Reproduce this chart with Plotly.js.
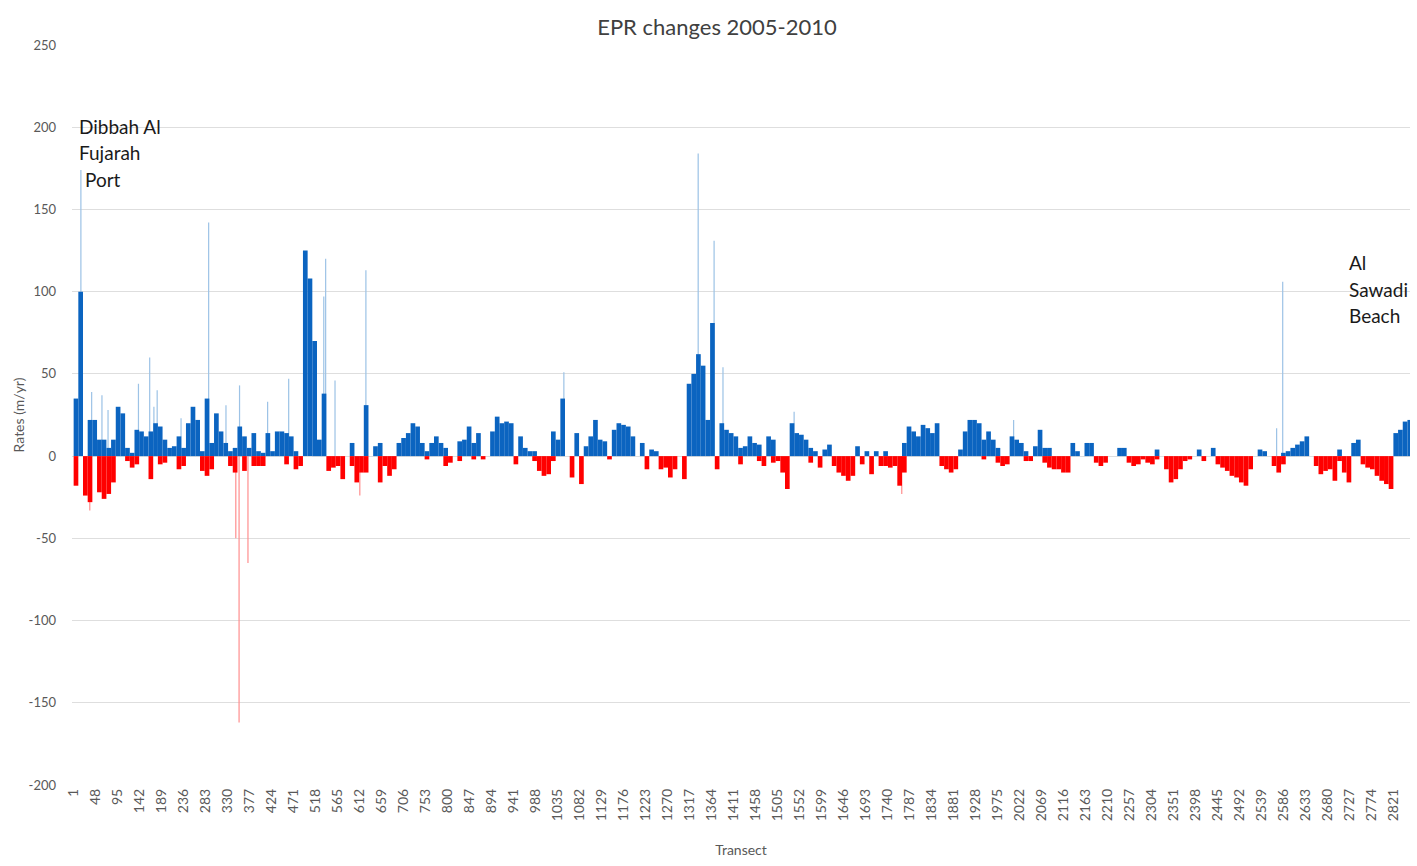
<!DOCTYPE html>
<html>
<head>
<meta charset="utf-8">
<script src="https://cdn.plot.ly/plotly-3.0.1.min.js"></script>
<style>
  html, body { margin: 0; padding: 0; background: #fff; }
  #chart { width: 1417px; height: 866px; }
</style>
</head>
<body>
<div id="chart"></div>
<script>
// EPR per group of 10 transects (m/yr)
const binStart = 1;
const binSize = 10;

// accretion part of each group (blue)
const gain = [
  35, 100, 0, 22, 22, 10, 10, 5, 10, 30,
  26, 5, 2, 16, 15, 12, 15, 20, 18, 10,
  5, 6, 12, 5, 20, 30, 22, 3, 35, 8,
  26, 15, 8, 3, 5, 18, 12, 5, 14, 3,
  2, 14, 3, 15, 15, 14, 12, 3, 0, 125,
  108, 70, 10, 38, 0, 0, 0, 0, 0, 8,
  0, 0, 31, 0, 6, 8, 0, 0, 0, 8,
  11, 14, 20, 18, 8, 3, 8, 12, 8, 5,
  0, 0, 9, 10, 18, 8, 14, 0, 0, 15,
  24, 20, 21, 20, 0, 12, 5, 3, 3, 0,
  0, 0, 15, 10, 35, 0, 0, 14, 0, 6,
  12, 22, 10, 9, 0, 16, 20, 19, 18, 12,
  0, 8, 0, 4, 3, 0, 0, 0, 0, 0,
  0, 44, 50, 62, 55, 22, 81, 0, 20, 16,
  14, 12, 5, 6, 12, 8, 7, 0, 12, 10,
  0, 0, 0, 20, 14, 13, 10, 5, 3, 0,
  4, 7, 0, 0, 0, 0, 0, 6, 0, 3,
  0, 3, 0, 3, 0, 0, 0, 8, 18, 15,
  12, 19, 17, 14, 20, 0, 0, 0, 0, 4,
  15, 22, 22, 20, 10, 15, 10, 5, 0, 0,
  12, 10, 8, 3, 0, 6, 16, 5, 5, 0,
  0, 0, 0, 8, 3, 0, 8, 8, 0, 0,
  0, 0, 0, 5, 5, 0, 0, 0, 0, 0,
  0, 4, 0, 0, 0, 0, 0, 0, 0, 0,
  4, 0, 0, 5, 0, 0, 0, 0, 0, 0,
  0, 0, 0, 4, 3, 0, 0, 0, 2, 3,
  5, 7, 9, 12, 0, 0, 0, 0, 0, 0,
  4, 0, 0, 8, 10, 0, 0, 0, 0, 0,
  0, 0, 14, 16, 21, 22
];

// erosion part of each group (red)
const loss = [
  -18, 0, -24, -28, 0, -22, -26, -23, -16, 0,
  0, -3, -7, -5, 0, 0, -14, 0, -5, -4,
  0, 0, -8, -6, 0, 0, 0, -9, -12, -8,
  0, 0, 0, -6, -10, 0, -9, 0, -6, -6,
  -6, 0, 0, 0, 0, -5, 0, -8, -6, 0,
  0, 0, 0, 0, -9, -7, -6, -14, 0, -6,
  -16, -10, -10, 0, 0, -16, -6, -12, -8, 0,
  0, 0, 0, 0, 0, -2, 0, 0, 0, -6,
  -4, 0, -3, 0, 0, -2, 0, -2, 0, 0,
  0, 0, 0, 0, -5, 0, 0, 0, -3, -9,
  -12, -11, -3, 0, 0, 0, -13, 0, -17, 0,
  0, 0, 0, 0, -2, 0, 0, 0, 0, 0,
  0, 0, -8, 0, 0, -8, -7, -13, -8, 0,
  -14, 0, 0, 0, 0, 0, 0, -8, 0, 0,
  0, 0, -5, 0, 0, 0, -3, -6, 0, -4,
  -3, -10, -20, 0, 0, 0, 0, -4, 0, -7,
  0, 0, -6, -10, -12, -15, -12, 0, -5, 0,
  -11, 0, -6, -6, -7, -6, -18, -10, 0, 0,
  0, 0, 0, 0, 0, -6, -8, -10, -8, 0,
  0, 0, 0, 0, -2, 0, 0, -4, -6, -5,
  0, 0, 0, -3, -3, 0, 0, -4, -7, -8,
  -8, -10, -10, 0, 0, 0, 0, 0, -4, -6,
  -4, 0, 0, 0, 0, -4, -6, -5, -2, -4,
  -5, -2, 0, -8, -16, -14, -8, -3, -2, 0,
  0, -3, 0, 0, -5, -7, -9, -12, -13, -16,
  -18, -8, 0, 0, 0, 0, -6, -10, -5, 0,
  0, 0, 0, 0, 0, -6, -11, -9, -8, -15,
  -3, -10, -16, 0, 0, -5, -7, -8, -12, -15,
  -17, -20, 0, 0, 0, 0
];

// single transects that stick out (thin light bars)
const peakTransect = [16, 39, 61, 74, 139, 163, 172, 179, 230, 289, 326, 355, 415, 460,
  535, 539, 559, 625, 1048, 1335, 1369, 1388, 1540, 2009, 2571, 2584];
const peakRate = [174, 39, 37, 28, 44, 60, 30, 40, 23, 142, 31, 43, 33, 47,
  97, 120, 46, 113, 51, 184, 131, 54, 27, 22, 17, 106];

const dropTransect = [35, 347, 354, 373, 612, 1770];
const dropRate = [-33, -50, -162, -65, -24, -23];

const tickLabels = [1, 48, 95, 142, 189, 236, 283, 330, 377, 424, 471, 518, 565, 612, 659,
  706, 753, 800, 847, 894, 941, 988, 1035, 1082, 1129, 1176, 1223, 1270, 1317, 1364,
  1411, 1458, 1505, 1552, 1599, 1646, 1693, 1740, 1787, 1834, 1881, 1928, 1975, 2022,
  2069, 2116, 2163, 2210, 2257, 2304, 2351, 2398, 2445, 2492, 2539, 2586, 2633, 2680,
  2727, 2774, 2821];

const rateTicks = [-200, -150, -100, -50, 0, 50, 100, 150, 200, 250];

const binCentre = gain.map((_, i) => binStart + i * binSize + (binSize - 1) / 2);

const txt = "#595959";
const fontFam = "Lato, 'Open Sans', sans-serif";

const traces = [
  {
    type: "bar", x: peakTransect, y: peakRate, width: 2.6,
    marker: { color: "#9dc3e6", line: { width: 0 } }
  },
  {
    type: "bar", x: dropTransect, y: dropRate, width: 2.6,
    marker: { color: "#ff8f8f", line: { width: 0 } }
  },
  {
    type: "bar", x: binCentre, y: gain, width: binSize,
    marker: { color: "#0b64c0", line: { width: 0 } }
  },
  {
    type: "bar", x: binCentre, y: loss, width: binSize,
    marker: { color: "#ff0000", line: { width: 0 } }
  }
];

function label(text, t, v) {
  return {
    text: text, x: t, y: v, xref: "x", yref: "y",
    xanchor: "left", yanchor: "middle", showarrow: false,
    font: { family: fontFam, size: 19, color: "#1a1a1a" }
  };
}

const layout = {
  width: 1417,
  height: 866,
  margin: { l: 72, r: 7, t: 45, b: 81 },
  paper_bgcolor: "#ffffff",
  plot_bgcolor: "#ffffff",
  barmode: "overlay",
  showlegend: false,
  font: { family: fontFam, color: txt },
  title: {
    text: "EPR changes 2005-2010",
    x: 0.506, xanchor: "center", y: 0.969, yanchor: "middle",
    font: { family: fontFam, size: 22, color: "#404040" }
  },
  xaxis: {
    range: [-3, 2856],
    tickmode: "array",
    tickvals: tickLabels,
    ticktext: tickLabels.map(String),
    tickangle: -90,
    tickfont: { size: 14, color: txt },
    showgrid: false,
    zeroline: false,
    showline: false,
    ticks: "",
    automargin: false,
    title: { text: "Transect", font: { size: 14, color: txt }, standoff: 24 }
  },
  yaxis: {
    range: [-200, 250],
    tickmode: "array",
    tickvals: rateTicks,
    ticktext: rateTicks.map(String),
    tickfont: { size: 13, color: txt },
    ticklabelstandoff: 15,
    gridcolor: "#dedede",
    gridwidth: 1,
    zeroline: false,
    showline: false,
    ticks: "",
    automargin: false,
    title: { text: "Rates (m/yr)", font: { size: 14, color: txt }, standoff: 0 }
  },
  annotations: [
    label("Dibbah Al", 8, 200.5),
    label("Fujarah", 8, 184.5),
    label("Port", 20, 168.5),
    label("Al", 2722, 118),
    label("Sawadi", 2722, 101.5),
    label("Beach", 2722, 85.5)
  ]
};

Plotly.newPlot("chart", traces, layout, { displayModeBar: false, staticPlot: true });
</script>
</body>
</html>
